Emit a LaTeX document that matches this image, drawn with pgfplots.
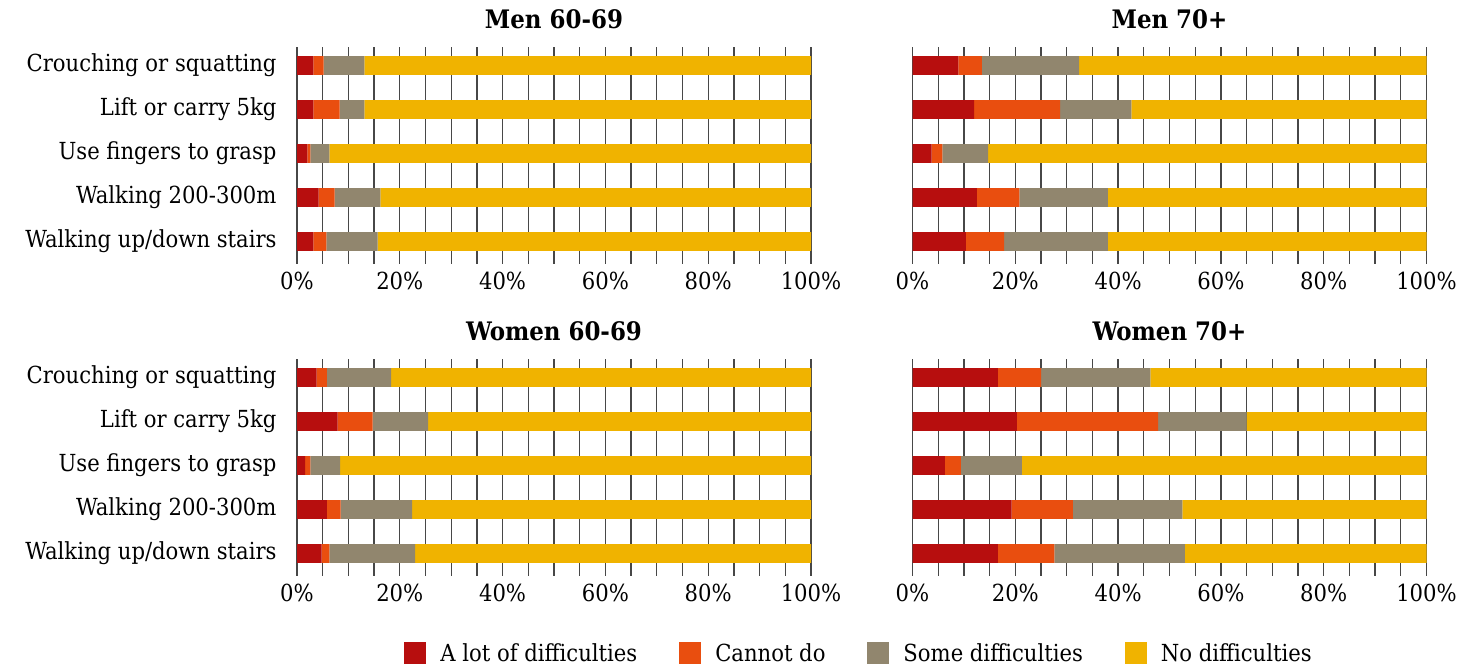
\documentclass[border=0pt]{standalone}
\usepackage{fontspec}
\setmainfont{DejaVu Serif Condensed}
\usepackage{pgfplots}
\usepackage{pgfplotstable}
\pgfplotsset{compat=1.18}

\definecolor{cRed}{HTML}{B70E0E}
\definecolor{cOrange}{HTML}{E94E0F}
\definecolor{cGrey}{HTML}{91866E}
\definecolor{cYellow}{HTML}{F0B300}

\newcommand{\lab}{\fontsize{23.5}{27}\selectfont}
\newcommand{\ttl}{\fontsize{25.5}{30}\selectfont\bfseries}

% idx: 0 crouching, 1 lift, 2 fingers, 3 walking, 4 stairs
\pgfplotstableread{
idx lot cannot some none
0 3.2 2.0 7.9 86.9
1 3.2 5.1 4.8 86.9
2 2.0 0.6 3.7 93.7
3 4.2 3.1 8.9 83.8
4 3.2 2.5 10.0 84.3
}\menA
\pgfplotstableread{
idx lot cannot some none
0 8.9 4.6 18.9 67.6
1 12.0 16.7 13.9 57.4
2 3.7 2.1 8.9 85.3
3 12.5 8.3 17.2 62.0
4 10.4 7.4 20.2 62.0
}\menB
\pgfplotstableread{
idx lot cannot some none
0 3.8 2.0 12.5 81.7
1 7.9 6.8 10.8 74.5
2 1.6 1.0 5.8 91.6
3 5.8 2.7 13.9 77.6
4 4.8 1.5 16.7 77.0
}\womA
\pgfplotstableread{
idx lot cannot some none
0 16.6 8.4 21.3 53.7
1 20.3 27.5 17.2 35.0
2 6.3 3.1 11.9 78.7
3 19.3 11.9 21.3 47.5
4 16.6 11.0 25.4 47.0
}\womB

\pgfplotsset{
  panel/.style={
    xbar stacked, scale only axis,
    width=514pt, height=216.5pt,
    xmin=0, xmax=100, ymin=-0.42, ymax=4.5, y dir=reverse,
    bar width=18.7pt,
    xtick={0,20,...,100}, minor x tick num=3,
    xmajorgrids, xminorgrids,
    major grid style={black!72, line width=1.3pt},
    minor grid style={black!72, line width=1.3pt},
    major tick length=0pt, minor tick length=0pt,
    ytick={0,...,4},
    yticklabels={Crouching or squatting, Lift or carry 5kg, Use fingers to grasp, Walking 200-300m, Walking up/down stairs},
    axis line style={draw=none},
    xticklabel={\pgfmathprintnumber{\tick}\%},
    /pgf/number format/assume math mode=true,
    tick label style={font=\lab},
    yticklabel style={xshift=-17pt},
    xticklabel style={yshift=-5pt},
    title style={font=\ttl, at={(0.5,1)}, anchor=center, yshift=22pt},
  },
}

\newcommand{\bars}[1]{%
  \addplot[fill=cRed, draw=none] table[x=lot, y=idx] {#1};
  \addplot[fill=cOrange, draw=none] table[x=cannot, y=idx] {#1};
  \addplot[fill=cGrey, draw=none] table[x=some, y=idx] {#1};
  \addplot[fill=cYellow, draw=none] table[x=none, y=idx] {#1};
}

\begin{document}
\begin{tikzpicture}
\useasboundingbox (0pt,0pt) rectangle (1461pt,-667pt);

\begin{axis}[panel, at={(297pt,-47pt)}, anchor=north west, title={Men 60-69}]
\bars{\menA}
\end{axis}

\begin{axis}[panel, at={(912.5pt,-47pt)}, anchor=north west, title={Men 70+}, yticklabels={}]
\bars{\menB}
\end{axis}

\begin{axis}[panel, at={(297pt,-359pt)}, anchor=north west, title={Women 60-69}]
\bars{\womA}
\end{axis}

\begin{axis}[panel, at={(912.5pt,-359pt)}, anchor=north west, title={Women 70+}, yticklabels={}]
\bars{\womB}
\end{axis}

% legend only
\begin{axis}[at={(0pt,-667pt)}, anchor=south west, scale only axis,
  width=1461pt, height=667pt, hide axis,
  xmin=0, xmax=1, ymin=0, ymax=1,
  legend columns=4,
  legend image code/.code={\fill[#1] (0pt,-11pt) rectangle (22pt,11pt);},
  legend style={at={(0.588,0.021)}, anchor=center, draw=none, fill=none,
    font=\lab, inner sep=0pt,
    /tikz/every odd column/.append style={column sep=12pt},
    /tikz/every even column/.append style={column sep=40pt}},
]
\addlegendimage{fill=cRed, draw=none}
\addlegendimage{fill=cOrange, draw=none}
\addlegendimage{fill=cGrey, draw=none}
\addlegendimage{fill=cYellow, draw=none}
\legend{A lot of difficulties, Cannot do, Some difficulties, No difficulties}
\end{axis}
\end{tikzpicture}
\end{document}
